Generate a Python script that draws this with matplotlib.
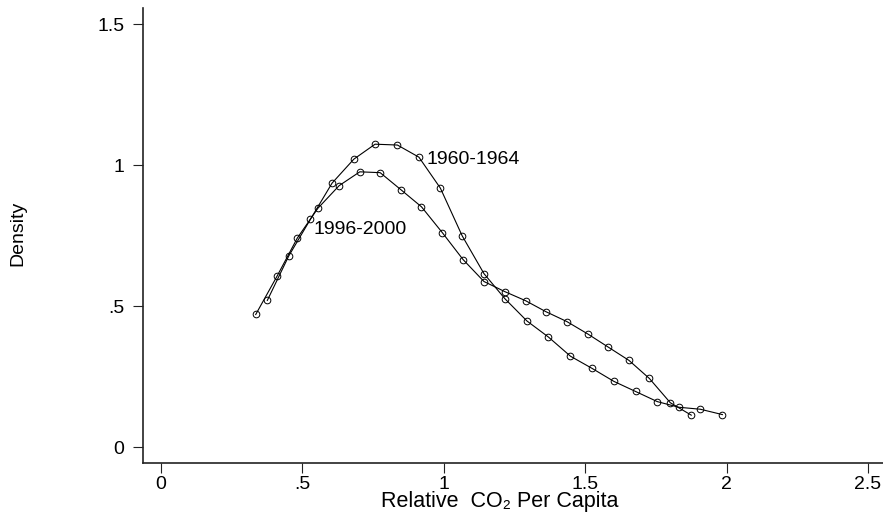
import matplotlib
matplotlib.use("Agg")
import matplotlib.pyplot as plt
from matplotlib.ticker import FixedLocator, FuncFormatter

plt.rcParams['font.family'] = ['Liberation Sans', 'DejaVu Sans']

# kernel density estimates
x_1960 = [0.376, 0.452, 0.528, 0.605, 0.682, 0.757, 0.836, 0.912, 0.988, 1.065,
          1.142, 1.216, 1.294, 1.370, 1.448, 1.524, 1.601, 1.678, 1.755, 1.831,
          1.907, 1.985]
y_1960 = [0.520, 0.678, 0.807, 0.936, 1.021, 1.074, 1.071, 1.028, 0.918, 0.749,
          0.615, 0.526, 0.447, 0.390, 0.322, 0.279, 0.233, 0.197, 0.161, 0.141,
          0.134, 0.115]

x_1996 = [0.335, 0.411, 0.482, 0.555, 0.630, 0.703, 0.775, 0.849, 0.921, 0.995,
          1.068, 1.142, 1.216, 1.289, 1.361, 1.435, 1.509, 1.582, 1.655, 1.727,
          1.801, 1.875]
y_1996 = [0.470, 0.607, 0.741, 0.847, 0.927, 0.976, 0.973, 0.912, 0.852, 0.760,
          0.665, 0.587, 0.551, 0.519, 0.480, 0.445, 0.401, 0.354, 0.307, 0.243,
          0.157, 0.113]

x_ticks = [0, 0.5, 1, 1.5, 2, 2.5]
y_ticks = [0, 0.5, 1, 1.5]


def stata_fmt(v, pos):
    s = f"{v:g}"
    if s.startswith("0."):
        s = s[1:]
    return s


fig = plt.figure(figsize=(8.83, 5.16), dpi=100)
ax = fig.add_axes([143 / 883, 53 / 516, 740 / 883, 455 / 516])

style = dict(color='black', linewidth=0.8, marker='o', markersize=4.8,
             markerfacecolor='none', markeredgecolor='black', markeredgewidth=0.7)
ax.plot(x_1960, y_1960, **style)
ax.plot(x_1996, y_1996, **style)

ax.text(0.940, 1.021, '1960-1964', fontsize=14, ha='left', va='center')
ax.text(0.539, 0.773, '1996-2000', fontsize=14, ha='left', va='center')

ax.set_xlim(-0.0636, 2.553)
ax.set_ylim(-0.0567, 1.557)

ax.xaxis.set_major_locator(FixedLocator(x_ticks))
ax.yaxis.set_major_locator(FixedLocator(y_ticks))
ax.xaxis.set_major_formatter(FuncFormatter(stata_fmt))
ax.yaxis.set_major_formatter(FuncFormatter(stata_fmt))
ax.tick_params(axis='both', direction='out', length=7.5, width=0.8,
               labelsize=14, color='#222222')
ax.tick_params(axis='x', pad=2)
ax.tick_params(axis='y', pad=6)

for side in ('top', 'right'):
    ax.spines[side].set_visible(False)
for side in ('left', 'bottom'):
    ax.spines[side].set_linewidth(1.2)
    ax.spines[side].set_color('#222222')

ax.text(1.196, -0.195, 'Relative  CO\u2082 Per Capita', fontsize=15.5,
        ha='center', va='center')
fig.text(18 / 883, 1 - 233 / 516, 'Density', fontsize=14, rotation=90,
         ha='center', va='center')

fig.savefig('out.png', dpi=100)
